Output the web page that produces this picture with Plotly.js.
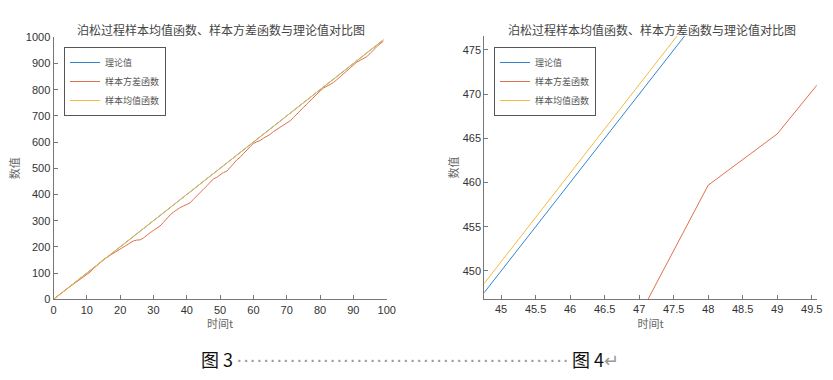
<!DOCTYPE html>
<html>
<head>
<meta charset="utf-8">
<script src="https://cdn.plot.ly/plotly-3.0.1.min.js"></script>
<style>html,body{margin:0;padding:0;background:#fff;}#chart{width:833px;height:380px;}</style>
</head>
<body>
<div id="chart"></div>
<script>
// time points t = 0..99
const timeT = [0,1,2,3,4,5,6,7,8,9,10,11,12,13,14,15,16,17,18,19,20,21,22,23,24,25,26,27,28,29,30,31,32,33,34,35,36,37,38,39,40,41,42,43,44,45,46,47,48,49,50,51,52,53,54,55,56,57,58,59,60,61,62,63,64,65,66,67,68,69,70,71,72,73,74,75,76,77,78,79,80,81,82,83,84,85,86,87,88,89,90,91,92,93,94,95,96,97,98,99];

// 理论值 (λt, λ = 10)
const theoryValues = [0,10,20,30,40,50,60,70,80,90,100,110,120,130,140,150,160,170,180,190,200,210,220,230,240,250,260,270,280,290,300,310,320,330,340,350,360,370,380,390,400,410,420,430,440,450,460,470,480,490,500,510,520,530,540,550,560,570,580,590,600,610,620,630,640,650,660,670,680,690,700,710,720,730,740,750,760,770,780,790,800,810,820,830,840,850,860,870,880,890,900,910,920,930,940,950,960,970,980,990];

// 样本方差函数
const varianceValues = [0,9,19,29,39,49,58,67,76,84,92,104,117,130,142,152,160,168,177,186,194,202,210,216,223,226,227,234,245,254,263,271,280,294,309,322,333,342,350,356,361,368,382,396,408,420,433,444.9,459.7,465.5,475.1,484,489,502,517,532,542,556,570,583,595,601,606,615,622,629,640,648,657,665,673,681,694,708,722,732,745,758,771,784,795,806,813,819,827,838,849,860,872,884,895,905,912,918,926,938,952,964,975,985];

// 样本均值函数
const meanValues = [0,10.0,20.1,30.1,39.9,50.0,60.2,70.1,80.0,89.9,100.1,110.2,120.0,130.1,140.3,150.2,160.0,169.8,180.1,190.3,200.2,210.4,220.1,229.9,240.2,250.5,260.3,270.0,280.4,290.6,300.5,310.3,320.7,330.5,340.2,350.6,360.8,370.5,380.9,391.0,400.7,410.9,420.8,431.0,441.0,451.0,461.0,471.0,481.1,490.9,500.8,510.6,520.9,531.0,540.7,550.5,560.8,570.6,580.3,590.5,600.7,610.4,620.2,630.5,640.3,650.0,660.2,669.9,680.1,690.4,700.2,709.9,720.1,730.3,740.0,749.8,760.1,770.2,779.9,790.0,800.3,810.1,819.8,830.0,840.2,850.1,859.9,870.0,880.3,890.1,899.8,910.0,920.2,929.9,940.0,950.2,960.1,969.8,980.0,990.1];

const seriesNames = ['理论值','样本方差函数','样本均值函数'];
const seriesColors = ['#2f86cf','#e0714a','#f0bb40'];
const chartTitle = '泊松过程样本均值函数、样本方差函数与理论值对比图';
const xLabel = '时间t';
const yLabel = '数值';
const captionLeft = '图 3';
const captionRight = '图 4';

const cjk = '"Noto Sans CJK SC", "Noto Sans", sans-serif';
const latin = '"Liberation Sans", Arial, sans-serif';

const seriesData = [theoryValues, varianceValues, meanValues];
const traces = [];
seriesData.forEach((vals, i) => {
  traces.push({x: timeT, y: vals, type: 'scatter', mode: 'lines', name: seriesNames[i],
    line: {color: seriesColors[i], width: 1}, xaxis: 'x', yaxis: 'y', legend: 'legend'});
});
seriesData.forEach((vals, i) => {
  traces.push({x: timeT, y: vals, type: 'scatter', mode: 'lines', name: seriesNames[i],
    line: {color: seriesColors[i], width: 1}, xaxis: 'x2', yaxis: 'y2', legend: 'legend2'});
});

const titleFont = {family: cjk, size: 11, color: '#666'};
const axisCommon = {
  showline: true, linecolor: '#777', linewidth: 1, mirror: false,
  ticks: 'inside', ticklen: 4, tickcolor: '#777', tickwidth: 1,
  showgrid: false, zeroline: false,
  tickfont: {family: latin, size: 11, color: '#333'}
};

const W = 833, H = 380;
const legendStyle = {bgcolor: '#fff', bordercolor: '#555', borderwidth: 1,
  font: {family: cjk, size: 9, color: '#555'}, itemwidth: 30, tracegroupgap: 0,
  xanchor: 'left', yanchor: 'top'};
const layout = {
  width: W, height: H,
  margin: {l: 0, r: 0, t: 0, b: 0},
  paper_bgcolor: '#fff', plot_bgcolor: '#fff',
  showlegend: true,
  xaxis: Object.assign({}, axisCommon, {
    domain: [53.5/W, 386.7/W], range: [0, 100], dtick: 10, tick0: 0, anchor: 'y',
    title: {text: xLabel, standoff: 5, font: titleFont}
  }),
  yaxis: Object.assign({}, axisCommon, {
    domain: [1-299.3/H, 1-37.3/H], range: [0, 1000], dtick: 100, tick0: 0, anchor: 'x',
    title: {text: yLabel, standoff: 3, font: titleFont}
  }),
  xaxis2: Object.assign({}, axisCommon, {
    domain: [484.3/W, 816.7/W], range: [44.757, 49.572], dtick: 0.5, tick0: 45, anchor: 'y2',
    title: {text: xLabel, standoff: 5, font: titleFont}
  }),
  yaxis2: Object.assign({}, axisCommon, {
    domain: [1-299/H, 1-36/H], range: [446.83, 476.58], dtick: 5, tick0: 450, anchor: 'x2',
    title: {text: yLabel, standoff: 1, font: titleFont}
  }),
  legend: Object.assign({}, legendStyle, {x: 64/W, y: 1-47/H}),
  legend2: Object.assign({}, legendStyle, {x: 494/W, y: 1-47/H}),
  annotations: [
    {text: chartTitle, xref: 'paper', yref: 'paper', x: 221/W, y: 1-29/H, xanchor: 'center', yanchor: 'middle',
      showarrow: false, font: {family: cjk, size: 12, color: '#444'}},
    {text: chartTitle, xref: 'paper', yref: 'paper', x: 652/W, y: 1-29/H, xanchor: 'center', yanchor: 'middle',
      showarrow: false, font: {family: cjk, size: 12, color: '#444'}},
    {text: captionLeft, xref: 'paper', yref: 'paper', x: 199/W, y: 1-359/H, xanchor: 'left', yanchor: 'middle',
      showarrow: false, font: {family: cjk, size: 18, color: '#111'}},
    {text: '·'.repeat(50), xref: 'paper', yref: 'paper', x: 234/W, y: 1-359/H, xanchor: 'left', yanchor: 'middle',
      showarrow: false, font: {family: latin, size: 20, color: '#999'}},
    {text: captionRight + '<span style="color:#999">↵</span>', xref: 'paper', yref: 'paper', x: 570/W, y: 1-359/H, xanchor: 'left', yanchor: 'middle',
      showarrow: false, font: {family: cjk, size: 18, color: '#111'}}
  ]
};

Plotly.newPlot('chart', traces, layout, {staticPlot: true, displayModeBar: false});
</script>
</body>
</html>
